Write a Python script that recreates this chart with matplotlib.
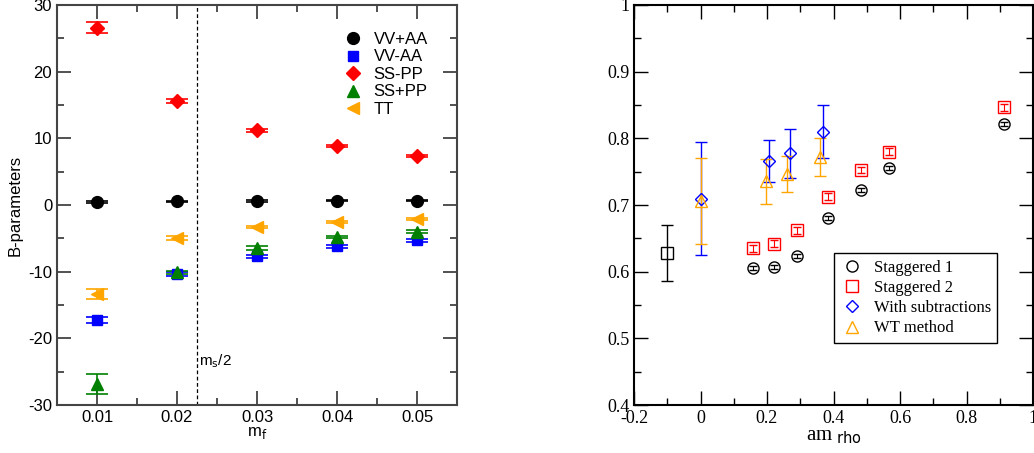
import matplotlib
matplotlib.use("Agg")
import matplotlib.pyplot as plt

plt.rcParams['axes.unicode_minus'] = False

# 左圖: B-parameters vs m_f
mf = [0.01, 0.02, 0.03, 0.04, 0.05]
vv_plus_aa = [0.45, 0.55, 0.6, 0.65, 0.65]
vv_plus_aa_err = [0.1, 0.1, 0.1, 0.1, 0.1]
vv_minus_aa = [-17.2, -10.35, -7.7, -6.2, -5.3]
vv_minus_aa_err = [0.45, 0.3, 0.25, 0.2, 0.2]
ss_minus_pp = [26.6, 15.6, 11.2, 8.85, 7.4]
ss_minus_pp_err = [0.85, 0.3, 0.25, 0.15, 0.15]
ss_plus_pp = [-26.8, -10.1, -6.5, -4.8, -4.0]
ss_plus_pp_err = [1.5, 0.25, 0.3, 0.2, 0.2]
tt = [-13.3, -5.0, -3.25, -2.5, -2.1]
tt_err = [0.75, 0.3, 0.15, 0.15, 0.15]
ms_half = 0.0225

# 右圖: vs am_rho
stag1_x = [0.158, 0.22, 0.29, 0.384, 0.483, 0.568, 0.913]
stag1_y = [0.606, 0.607, 0.6235, 0.680, 0.7225, 0.756, 0.822]
stag1_err = [0.003, 0.003, 0.003, 0.003, 0.003, 0.003, 0.003]
stag2_x = [0.158, 0.22, 0.29, 0.384, 0.483, 0.568, 0.913]
stag2_y = [0.635, 0.642, 0.662, 0.7126, 0.7525, 0.780, 0.8466]
stag2_err = [0.005, 0.005, 0.005, 0.005, 0.005, 0.005, 0.005]
sub_x = [0.0, 0.205, 0.268, 0.368]
sub_y = [0.7096, 0.766, 0.7776, 0.810]
sub_err = [0.085, 0.031, 0.037, 0.04]
wt_x = [0.0, 0.196, 0.26, 0.358]
wt_y = [0.706, 0.7355, 0.747, 0.772]
wt_err = [0.065, 0.034, 0.027, 0.028]
extra_x = [-0.1]
extra_y = [0.628]
extra_err = [0.042]

fig = plt.figure(figsize=(10.34, 4.53), dpi=100)
ax1 = fig.add_axes([57 / 1034, 48 / 453, 400 / 1034, 400 / 453])
ax2 = fig.add_axes([634 / 1034, 48 / 453, 399 / 1034, 400 / 453])

sans = "Liberation Sans"
serif = "Liberation Serif"

# ---- 左圖 ----
series = [
    (vv_plus_aa, vv_plus_aa_err, "o", "black", "VV+AA"),
    (vv_minus_aa, vv_minus_aa_err, "s", "blue", "VV-AA"),
    (ss_minus_pp, ss_minus_pp_err, "D", "red", "SS-PP"),
    (ss_plus_pp, ss_plus_pp_err, "^", "green", "SS+PP"),
    (tt, tt_err, "<", "orange", "TT"),
]
for y, e, m, c, lab in series:
    ms = 7 if m in ("s", "D") else 8.5
    ax1.errorbar(mf, y, yerr=e, fmt=m, color=c, ms=ms, capsize=8,
                 elinewidth=1.2, capthick=1.2, label=lab, ecolor=c)

ax1.axvline(ms_half, color="black", ls=(0, (3, 2)), lw=0.9)
ax1.text(ms_half + 0.0003, -24, r"m$_\mathrm{s}$/2", fontsize=11, family=sans)

ax1.set_xlim(0.005, 0.055)
ax1.set_ylim(-30, 30)
ax1.set_xticks(mf)
ax1.set_xticklabels(["0.01", "0.02", "0.03", "0.04", "0.05"])
ax1.set_xticks([0.015, 0.025, 0.035, 0.045], minor=True)
ax1.set_yticks([-30, -20, -10, 0, 10, 20, 30])
ax1.set_yticks([-25, -15, -5, 5, 15, 25], minor=True)
ax1.tick_params(which="both", direction="in", top=True, right=True,
                labelsize=12, color="#333333")
ax1.tick_params(which="major", length=10, width=1.2)
ax1.tick_params(which="minor", length=5, width=1.2)
for lbl in ax1.get_xticklabels() + ax1.get_yticklabels():
    lbl.set_family(sans)
for s in ax1.spines.values():
    s.set_linewidth(1.5)
    s.set_color("#444444")
ax1.set_xlabel(r"m$_\mathrm{f}$", fontsize=12, family=sans, labelpad=0)
ax1.set_ylabel("B-parameters", fontsize=12, family=sans, labelpad=4)

h, l = ax1.get_legend_handles_labels()
h = [hh[0] for hh in h]
ax1.legend(h, l, loc="upper right", bbox_to_anchor=(0.965, 0.97), frameon=False,
           prop={"family": sans, "size": 12}, handletextpad=0.5,
           labelspacing=0.15, handlelength=1.5)

# ---- 右圖 ----
ax2.errorbar(stag1_x, stag1_y, yerr=stag1_err, fmt="o", mfc="none", mec="black",
             color="black", ms=8, capsize=3, elinewidth=0.8, label="Staggered 1")
ax2.errorbar(stag2_x, stag2_y, yerr=stag2_err, fmt="s", mfc="none", mec="red",
             color="red", ms=8, capsize=3, elinewidth=0.8, label="Staggered 2")
ax2.errorbar(sub_x, sub_y, yerr=sub_err, fmt="D", mfc="none", mec="blue",
             color="blue", ms=6.5, capsize=4, elinewidth=1, label="With subtractions")
ax2.errorbar(wt_x, wt_y, yerr=wt_err, fmt="^", mfc="none", mec="orange",
             color="orange", ms=8, capsize=4, elinewidth=1, label="WT method")
ax2.errorbar(extra_x, extra_y, yerr=extra_err, fmt="s", mfc="none", mec="black",
             color="black", ms=8, capsize=4, elinewidth=1)

ax2.set_xlim(-0.2, 1.0)
ax2.set_ylim(0.4, 1.0)
ax2.set_xticks([-0.2, 0, 0.2, 0.4, 0.6, 0.8, 1.0])
ax2.set_xticklabels(["-0.2", "0", "0.2", "0.4", "0.6", "0.8", "1"])
ax2.set_xticks([-0.1, 0.1, 0.3, 0.5, 0.7, 0.9], minor=True)
ax2.set_yticks([0.4, 0.5, 0.6, 0.7, 0.8, 0.9, 1.0])
ax2.set_yticklabels(["0.4", "0.5", "0.6", "0.7", "0.8", "0.9", "1"])
ax2.set_yticks([0.45, 0.55, 0.65, 0.75, 0.85, 0.95], minor=True)
ax2.tick_params(which="both", direction="in", top=True, right=True, labelsize=13)
ax2.tick_params(which="major", length=10, width=1)
ax2.tick_params(which="minor", length=5, width=1)
for lbl in ax2.get_xticklabels() + ax2.get_yticklabels():
    lbl.set_family(serif)
for s in ax2.spines.values():
    s.set_linewidth(1.5)
ax2.set_xlabel(r"am$_{\ \mathrm{rho}}$", fontsize=15, family=serif, labelpad=0)

h, l = ax2.get_legend_handles_labels()
h = [hh[0] for hh in h]
leg = ax2.legend(h, l, loc="lower left", bbox_to_anchor=(0.5, 0.155),
                 borderaxespad=0,
                 prop={"family": serif, "size": 12}, fancybox=False,
                 edgecolor="black", framealpha=1, handletextpad=0.6,
                 labelspacing=0.25, borderpad=0.4, handlelength=1.4)
leg.get_frame().set_linewidth(1)

fig.savefig("out.png", dpi=100)
